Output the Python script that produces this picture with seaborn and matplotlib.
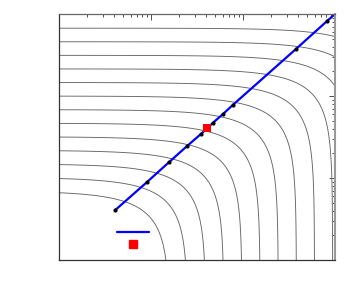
import numpy as np
import pandas as pd
import matplotlib
matplotlib.use("Agg")
import matplotlib.pyplot as plt
import seaborn as sns
from matplotlib.lines import Line2D

# iterates of the descent path (log-log axes)
path_x = [4.06, 8.97, 15.8, 24.4, 35.2, 46.9, 61.1, 77.3, 374, 813]
path_y = [4.04, 8.85, 15.7, 24.3, 34.7, 46.9, 60.8, 77.6, 372, 815]
line_end = (1000, 1000)
best_x = [40.9]
best_y = [41.0]

# contour model: f = 10^(a*(u-u0)) + 10^(b*(v-v0)), u=log10 x, v=log10 y
u0, v0 = 1.20, 0.84
a_exp, b_exp = 1.05, 1.25
levels = [10 ** (0.207 * k) for k in range(13)]

sns.set_style("white")
fig = plt.figure(figsize=(3.57, 2.99), dpi=100)
ax = fig.add_axes([0.1653, 0.1304, 0.7731, 0.8227])

u = np.linspace(0, 3, 500)
v = np.linspace(0, 3, 500)
U, V = np.meshgrid(u, v)
F = 10 ** (a_exp * (U - u0)) + 10 ** (b_exp * (V - v0))
ax.contour(10 ** U, 10 ** V, F, levels=levels, colors="#666666", linewidths=0.65)

df = pd.DataFrame({"x": path_x + [line_end[0]], "y": path_y + [line_end[1]]})
sns.lineplot(data=df, x="x", y="y", ax=ax, color="#0000ff", linewidth=1.6,
             sort=False, estimator=None)
sns.scatterplot(x=path_x, y=path_y, ax=ax, color="black", s=9, linewidth=0,
                zorder=4)
sns.scatterplot(x=best_x, y=best_y, ax=ax, color="red", marker="s", s=34,
                linewidth=0, zorder=5)

ax.set_xscale("log")
ax.set_yscale("log")
ax.set_xlim(1, 1000)
ax.set_ylim(1, 1000)
ax.set_xlabel("")
ax.set_ylabel("")
ax.tick_params(which="both", direction="in", top=True, right=True,
               labelbottom=False, labelleft=False, color="#333333")
ax.tick_params(which="major", length=4, width=0.6)
ax.tick_params(which="minor", length=2, width=0.6)
for side in ["left", "bottom"]:
    ax.spines[side].set_color("#333333")
    ax.spines[side].set_linewidth(0.9)
ax.spines["top"].set_color("#666666")
ax.spines["top"].set_linewidth(0.9)
ax.spines["right"].set_color("#999999")
ax.spines["right"].set_linewidth(1.5)

handles = [Line2D([], [], color="#0000ff", linewidth=1.6),
           Line2D([], [], color="red", marker="s", markersize=5.5, linestyle="none")]
ax.legend(handles, ["", ""], loc="center", bbox_to_anchor=(0.268, 0.088),
          frameon=False, fontsize=7, handlelength=3.3, handletextpad=0,
          labelspacing=0.15)

fig.savefig("out.png", dpi=100)
